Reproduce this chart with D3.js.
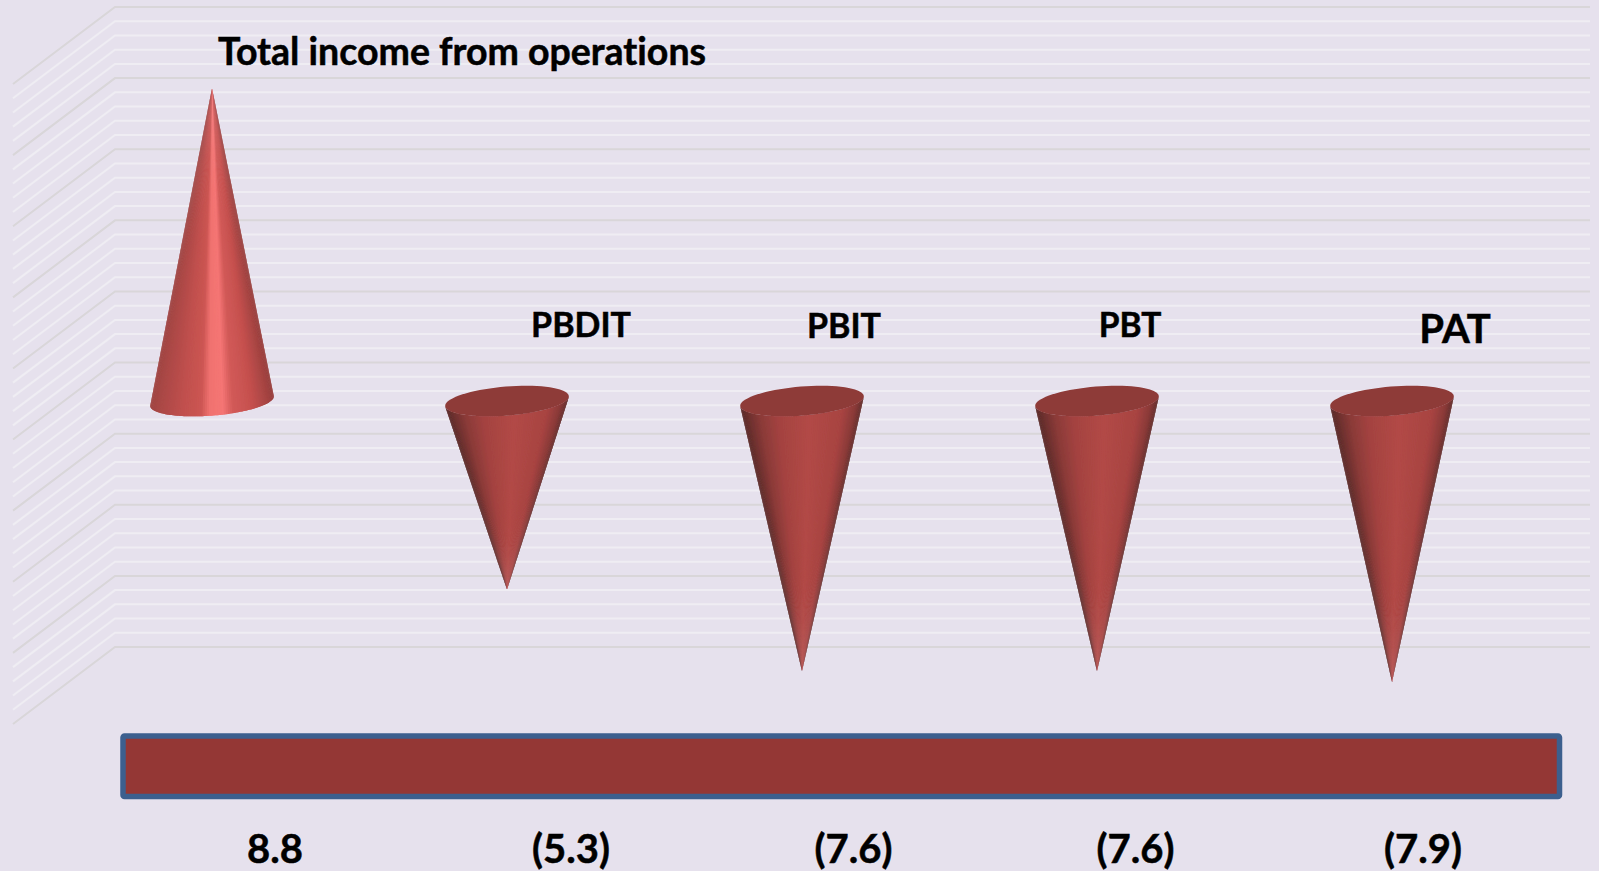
<!DOCTYPE html>
<html>
<head>
<meta charset="utf-8">
<script src="https://cdn.jsdelivr.net/npm/d3@7"></script>
<style>
  html, body { margin: 0; padding: 0; background: #e6e1ed; overflow: hidden; }
  text { font-family: Lato, "Open Sans", sans-serif; font-weight: 700; fill: #000; stroke: #000; stroke-width: 0.5; font-variant-ligatures: none; }
</style>
</head>
<body>
<div id="chart-container"></div>
<script>
const categories = ["Total income from operations", "PBDIT", "PBIT", "PBT", "PAT"];
const values = [8.8, -5.3, -7.6, -7.6, -7.9];
const valueLabels = ["8.8", "(5.3)", "(7.6)", "(7.6)", "(7.9)"];

const width = 1599;
const height = 871;

// back wall of the 3d plot, the front edge sits down and to the left of it
const wall = { left: 115, right: 1590, top: 7, bottom: 647 };
const depth = { x: 102, y: 77 };

const x = d3.scaleBand()
    .domain(categories)
    .range([64.5, 1539.5]);

const y = d3.scaleLinear()
    .domain([-8, 10])
    .range([wall.bottom, wall.top]);

const svg = d3.select("#chart-container")
    .append("svg")
    .attr("width", width)
    .attr("height", height)
    .style("display", "block");

const defs = svg.append("defs");
defs.append("filter")
    .attr("id", "soft")
    .append("feGaussianBlur")
    .attr("stdDeviation", 0.45);

// gridlines, every 5th one is darker
const gridValues = d3.range(0, 46).map(i => -8 + i * 0.4);
svg.append("g")
    .attr("fill", "none")
    .attr("filter", "url(#soft)")
    .selectAll("path")
    .data(gridValues)
    .join("path")
    .attr("stroke", (d, i) => i % 5 === 0 ? "#d9d6d9" : "#efedf3")
    .attr("stroke-width", 2)
    .attr("d", d => d3.line()([
        [wall.left - depth.x, y(d) + depth.y],
        [wall.left, y(d)],
        [wall.right, y(d)]
    ]));

// shading across the cone, 0 = left edge, 1 = right edge
const shadeUp = d3.scaleLinear()
    .domain([0, 0.08, 0.25, 0.4, 0.47, 0.58, 0.66, 0.82, 1])
    .range(["#a04543", "#ac4846", "#c0504e", "#cc5552", "#f07270", "#f57574", "#d25a58", "#c5504e", "#983f3d"]);
const shadeDown = d3.scaleLinear()
    .domain([0, 0.06, 0.15, 0.3, 0.55, 0.82, 0.93, 1])
    .range(["#5a2b29", "#6e312f", "#8a3a38", "#a44341", "#b24946", "#a84442", "#8a3a38", "#602d2b"]);

const coneTop = y(0) + depth.y / 2;
const rx = 62;
const ry = 14.5;
const tilt = -4.6 * Math.PI / 180;
const facets = 90;

// point on the tilted base ellipse
function rim(cx, a) {
    const ex = rx * Math.cos(a);
    const ey = ry * Math.sin(a);
    return [
        cx + ex * Math.cos(tilt) - ey * Math.sin(tilt),
        coneTop + ex * Math.sin(tilt) + ey * Math.cos(tilt)
    ];
}

const cones = svg.append("g")
    .attr("filter", "url(#soft)")
    .selectAll("g")
    .data(categories.map((c, i) => ({ c, v: values[i] })))
    .join("g");

cones.each(function (d) {
    const g = d3.select(this);
    const cx = x(d.c) + x.bandwidth() / 2;
    const tip = [cx, y(d.v) + depth.y / 2];
    const up = d.v > 0;
    const shade = up ? shadeUp : shadeDown;
    // drawn right to left, each slice runs under the next so no seams show
    const da = Math.PI / facets;
    const steps = d3.range(facets).map(i => da * i);
    g.selectAll("path.facet")
        .data(steps)
        .join("path")
        .attr("class", "facet")
        .attr("d", a => {
            const end = Math.min(a + 2 * da, Math.PI);
            const arc = [a, (a + end) / 2, end].map(t => rim(cx, t));
            return d3.line()([tip, ...arc]) + "Z";
        })
        .attr("fill", a => shade((1 + Math.cos(a + da / 2)) / 2));
    if (!up) {
        const lid = d3.range(0, 73).map(i => rim(cx, i * Math.PI / 36));
        g.append("path")
            .attr("d", d3.line()(lid) + "Z")
            .attr("fill", "#8e3a38");
    }
});

// band under the plot
svg.append("rect")
    .attr("x", 123)
    .attr("y", 736)
    .attr("width", 1436.5)
    .attr("height", 60.5)
    .attr("rx", 1.5)
    .attr("fill", "#943735")
    .attr("stroke", "#3c5f8e")
    .attr("stroke-width", 5.5);

// label offsets from the centre of each category, placed by hand in the original
const nameOffsets = [{ dx: 250, y: 65 }, { dx: 74, y: 337 }, { dx: 42, y: 338 }, { dx: 33, y: 337 }, { dx: 63, y: 343 }];
const nameSizes = [37.5, 34, 34, 33.5, 40];
const valueOffsets = [63, 64, 51.5, 38.5, 31];

svg.append("g")
    .selectAll("text")
    .data(categories)
    .join("text")
    .attr("x", (d, i) => x(d) + x.bandwidth() / 2 + nameOffsets[i].dx)
    .attr("y", (d, i) => nameOffsets[i].y)
    .attr("text-anchor", "middle")
    .attr("font-size", (d, i) => nameSizes[i])
    .text(d => d);

svg.append("g")
    .selectAll("text")
    .data(valueLabels)
    .join("text")
    .attr("x", (d, i) => x(categories[i]) + x.bandwidth() / 2 + valueOffsets[i])
    .attr("y", 863)
    .attr("text-anchor", "middle")
    .attr("font-size", 40)
    .text(d => d);
</script>
</body>
</html>
